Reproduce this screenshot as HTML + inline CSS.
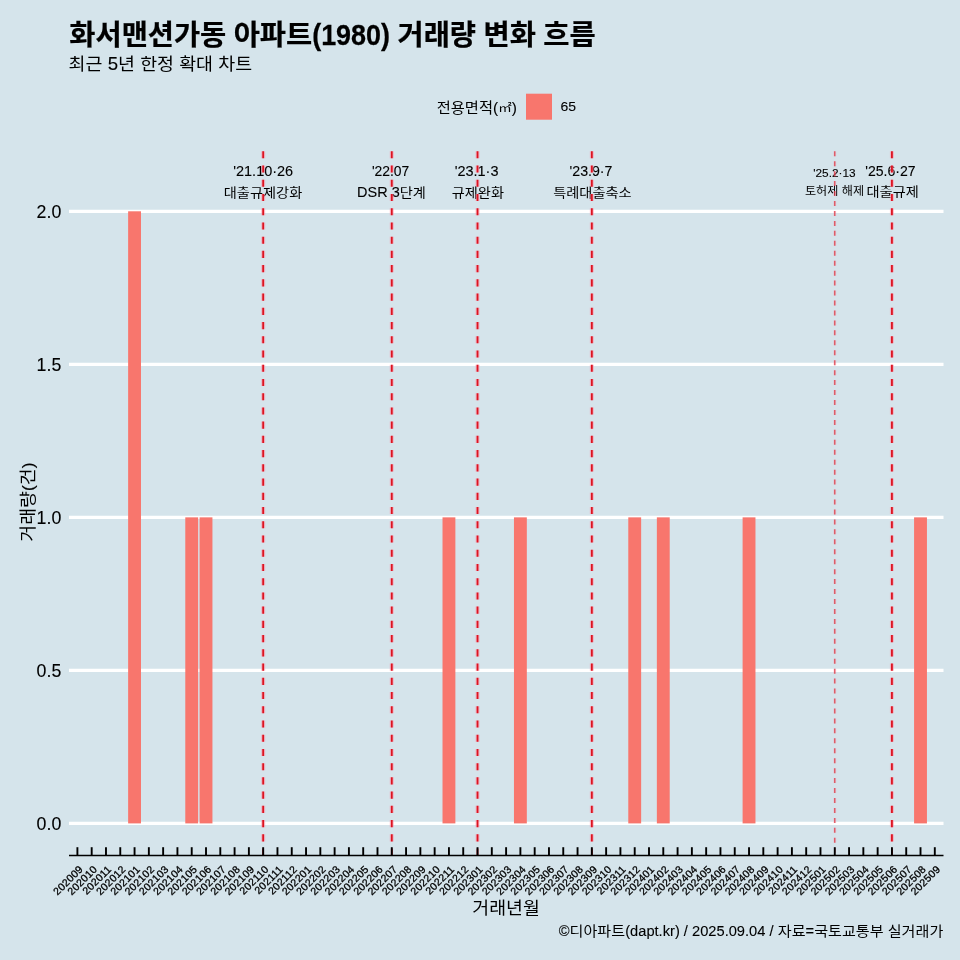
<!DOCTYPE html>
<html lang="ko"><head><meta charset="utf-8"><title>chart</title>
<style>
html,body{margin:0;padding:0;background:#d5e4eb;}
body{width:960px;height:960px;overflow:hidden;position:relative;font-family:"Liberation Sans","Noto Sans CJK KR",sans-serif;}
svg{position:absolute;left:0;top:0;display:block}
text.l{stroke:#000;stroke-width:0.1px}
text.b{stroke:#000;stroke-width:0.25px}
text.x{stroke:#000;stroke-width:0.3px}
text{white-space:pre;font-family:"Liberation Sans","Noto Sans CJK KR",sans-serif;fill:#000}
</style></head><body>
<svg width="960" height="960" viewBox="0 0 960 960">
<rect x="0" y="0" width="960" height="960" fill="#d5e4eb"/>

<line x1="69.0" x2="943.5" y1="823.40" y2="823.40" stroke="#fff" stroke-width="3.2"/>
<line x1="69.0" x2="943.5" y1="670.38" y2="670.38" stroke="#fff" stroke-width="3.2"/>
<line x1="69.0" x2="943.5" y1="517.35" y2="517.35" stroke="#fff" stroke-width="3.2"/>
<line x1="69.0" x2="943.5" y1="364.32" y2="364.32" stroke="#fff" stroke-width="3.2"/>
<line x1="69.0" x2="943.5" y1="211.30" y2="211.30" stroke="#fff" stroke-width="3.2"/>
<rect x="128.13" y="211.30" width="12.86" height="612.10" fill="#f8766d"/>
<rect x="185.29" y="517.35" width="12.86" height="306.05" fill="#f8766d"/>
<rect x="199.58" y="517.35" width="12.86" height="306.05" fill="#f8766d"/>
<rect x="442.51" y="517.35" width="12.86" height="306.05" fill="#f8766d"/>
<rect x="513.96" y="517.35" width="12.86" height="306.05" fill="#f8766d"/>
<rect x="628.28" y="517.35" width="12.86" height="306.05" fill="#f8766d"/>
<rect x="656.86" y="517.35" width="12.86" height="306.05" fill="#f8766d"/>
<rect x="742.60" y="517.35" width="12.86" height="306.05" fill="#f8766d"/>
<rect x="914.08" y="517.35" width="12.86" height="306.05" fill="#f8766d"/>
<g transform="translate(233.25,176.00)"><text transform="translate(0.00,0) scale(1.020,1)" font-size="14.20" class="l">'21.10·26</text></g>
<g transform="translate(223.72,197.38)"><text transform="translate(0.00,0) scale(1.120,1)" font-size="12.71">대출규제강화</text></g>
<g transform="translate(371.88,176.00)"><text transform="translate(0.00,0) scale(0.980,1)" font-size="14.20" class="l">'22.07</text></g>
<g transform="translate(357.12,197.38)"><text transform="translate(0.00,0) scale(1.020,1)" font-size="14.20" class="l">DSR 3</text><text transform="translate(42.63,0) scale(1.120,1)" font-size="12.71">단계</text></g>
<g transform="translate(454.70,176.00)"><text transform="translate(0.00,0) scale(1.020,1)" font-size="14.20" class="l">'23.1·3</text></g>
<g transform="translate(451.70,197.38)"><text transform="translate(0.00,0) scale(1.120,1)" font-size="12.71">규제완화</text></g>
<g transform="translate(569.55,176.00)"><text transform="translate(0.00,0)" font-size="14.20" class="l">'23.9·7</text></g>
<g transform="translate(553.18,197.38)"><text transform="translate(0.00,0) scale(1.120,1)" font-size="12.71">특례대출축소</text></g>
<g transform="translate(813.25,176.80)"><text transform="translate(0.00,0) scale(1.020,1)" font-size="11.60" class="l">'25.2·13</text></g>
<g transform="translate(804.95,195.05)"><text transform="translate(0.00,0) scale(1.120,1)" font-size="10.83">토허제</text><text transform="translate(33.48,0) scale(1.020,1)" font-size="12.10" class="l"> </text><text transform="translate(36.92,0) scale(1.120,1)" font-size="10.83">해제</text></g>
<g transform="translate(865.30,176.20)"><text transform="translate(0.00,0) scale(0.990,1)" font-size="14.20" class="l">'25.6·27</text></g>
<g transform="translate(866.50,196.20)"><text transform="translate(0.00,0) scale(1.120,1)" font-size="12.71">대출규제</text></g>
<line x1="263.17" x2="263.17" y1="151.25" y2="846.5" stroke="#ff90a8" stroke-opacity="0.55" stroke-width="4.00" stroke-dasharray="7.115 7.115"/>
<line x1="263.17" x2="263.17" y1="151.25" y2="855.3" stroke="#dc1420" stroke-width="1.8" stroke-dasharray="7.115 7.115"/>
<line x1="391.78" x2="391.78" y1="151.25" y2="846.5" stroke="#ff90a8" stroke-opacity="0.55" stroke-width="4.00" stroke-dasharray="7.115 7.115"/>
<line x1="391.78" x2="391.78" y1="151.25" y2="855.3" stroke="#dc1420" stroke-width="1.8" stroke-dasharray="7.115 7.115"/>
<line x1="477.52" x2="477.52" y1="151.25" y2="846.5" stroke="#ff90a8" stroke-opacity="0.55" stroke-width="4.00" stroke-dasharray="7.115 7.115"/>
<line x1="477.52" x2="477.52" y1="151.25" y2="855.3" stroke="#dc1420" stroke-width="1.8" stroke-dasharray="7.115 7.115"/>
<line x1="591.84" x2="591.84" y1="151.25" y2="846.5" stroke="#ff90a8" stroke-opacity="0.55" stroke-width="4.00" stroke-dasharray="7.115 7.115"/>
<line x1="591.84" x2="591.84" y1="151.25" y2="855.3" stroke="#dc1420" stroke-width="1.8" stroke-dasharray="7.115 7.115"/>
<line x1="834.77" x2="834.77" y1="151.25" y2="846.5" stroke="#ff90a8" stroke-opacity="0.3" stroke-width="2.85" stroke-dasharray="4.975 4.975"/>
<line x1="834.77" x2="834.77" y1="151.25" y2="855.3" stroke="#dc3540" stroke-width="1.25" stroke-dasharray="4.975 4.975" stroke-opacity="0.85"/>
<line x1="891.93" x2="891.93" y1="151.25" y2="846.5" stroke="#ff90a8" stroke-opacity="0.55" stroke-width="4.00" stroke-dasharray="7.115 7.115"/>
<line x1="891.93" x2="891.93" y1="151.25" y2="855.3" stroke="#dc1420" stroke-width="1.8" stroke-dasharray="7.115 7.115"/>
<line x1="69.0" x2="943.5" y1="855.4499999999999" y2="855.4499999999999" stroke="#000" stroke-width="1.55"/>
<line x1="77.40" x2="77.40" y1="847.2" y2="855.3" stroke="#000" stroke-width="1.9"/>
<line x1="91.69" x2="91.69" y1="847.2" y2="855.3" stroke="#000" stroke-width="1.9"/>
<line x1="105.98" x2="105.98" y1="847.2" y2="855.3" stroke="#000" stroke-width="1.9"/>
<line x1="120.27" x2="120.27" y1="847.2" y2="855.3" stroke="#000" stroke-width="1.9"/>
<line x1="134.56" x2="134.56" y1="847.2" y2="855.3" stroke="#000" stroke-width="1.9"/>
<line x1="148.85" x2="148.85" y1="847.2" y2="855.3" stroke="#000" stroke-width="1.9"/>
<line x1="163.14" x2="163.14" y1="847.2" y2="855.3" stroke="#000" stroke-width="1.9"/>
<line x1="177.43" x2="177.43" y1="847.2" y2="855.3" stroke="#000" stroke-width="1.9"/>
<line x1="191.72" x2="191.72" y1="847.2" y2="855.3" stroke="#000" stroke-width="1.9"/>
<line x1="206.01" x2="206.01" y1="847.2" y2="855.3" stroke="#000" stroke-width="1.9"/>
<line x1="220.30" x2="220.30" y1="847.2" y2="855.3" stroke="#000" stroke-width="1.9"/>
<line x1="234.59" x2="234.59" y1="847.2" y2="855.3" stroke="#000" stroke-width="1.9"/>
<line x1="248.88" x2="248.88" y1="847.2" y2="855.3" stroke="#000" stroke-width="1.9"/>
<line x1="263.17" x2="263.17" y1="847.2" y2="855.3" stroke="#000" stroke-width="1.9"/>
<line x1="277.46" x2="277.46" y1="847.2" y2="855.3" stroke="#000" stroke-width="1.9"/>
<line x1="291.75" x2="291.75" y1="847.2" y2="855.3" stroke="#000" stroke-width="1.9"/>
<line x1="306.04" x2="306.04" y1="847.2" y2="855.3" stroke="#000" stroke-width="1.9"/>
<line x1="320.33" x2="320.33" y1="847.2" y2="855.3" stroke="#000" stroke-width="1.9"/>
<line x1="334.62" x2="334.62" y1="847.2" y2="855.3" stroke="#000" stroke-width="1.9"/>
<line x1="348.91" x2="348.91" y1="847.2" y2="855.3" stroke="#000" stroke-width="1.9"/>
<line x1="363.20" x2="363.20" y1="847.2" y2="855.3" stroke="#000" stroke-width="1.9"/>
<line x1="377.49" x2="377.49" y1="847.2" y2="855.3" stroke="#000" stroke-width="1.9"/>
<line x1="391.78" x2="391.78" y1="847.2" y2="855.3" stroke="#000" stroke-width="1.9"/>
<line x1="406.07" x2="406.07" y1="847.2" y2="855.3" stroke="#000" stroke-width="1.9"/>
<line x1="420.36" x2="420.36" y1="847.2" y2="855.3" stroke="#000" stroke-width="1.9"/>
<line x1="434.65" x2="434.65" y1="847.2" y2="855.3" stroke="#000" stroke-width="1.9"/>
<line x1="448.94" x2="448.94" y1="847.2" y2="855.3" stroke="#000" stroke-width="1.9"/>
<line x1="463.23" x2="463.23" y1="847.2" y2="855.3" stroke="#000" stroke-width="1.9"/>
<line x1="477.52" x2="477.52" y1="847.2" y2="855.3" stroke="#000" stroke-width="1.9"/>
<line x1="491.81" x2="491.81" y1="847.2" y2="855.3" stroke="#000" stroke-width="1.9"/>
<line x1="506.10" x2="506.10" y1="847.2" y2="855.3" stroke="#000" stroke-width="1.9"/>
<line x1="520.39" x2="520.39" y1="847.2" y2="855.3" stroke="#000" stroke-width="1.9"/>
<line x1="534.68" x2="534.68" y1="847.2" y2="855.3" stroke="#000" stroke-width="1.9"/>
<line x1="548.97" x2="548.97" y1="847.2" y2="855.3" stroke="#000" stroke-width="1.9"/>
<line x1="563.26" x2="563.26" y1="847.2" y2="855.3" stroke="#000" stroke-width="1.9"/>
<line x1="577.55" x2="577.55" y1="847.2" y2="855.3" stroke="#000" stroke-width="1.9"/>
<line x1="591.84" x2="591.84" y1="847.2" y2="855.3" stroke="#000" stroke-width="1.9"/>
<line x1="606.13" x2="606.13" y1="847.2" y2="855.3" stroke="#000" stroke-width="1.9"/>
<line x1="620.42" x2="620.42" y1="847.2" y2="855.3" stroke="#000" stroke-width="1.9"/>
<line x1="634.71" x2="634.71" y1="847.2" y2="855.3" stroke="#000" stroke-width="1.9"/>
<line x1="649.00" x2="649.00" y1="847.2" y2="855.3" stroke="#000" stroke-width="1.9"/>
<line x1="663.29" x2="663.29" y1="847.2" y2="855.3" stroke="#000" stroke-width="1.9"/>
<line x1="677.58" x2="677.58" y1="847.2" y2="855.3" stroke="#000" stroke-width="1.9"/>
<line x1="691.87" x2="691.87" y1="847.2" y2="855.3" stroke="#000" stroke-width="1.9"/>
<line x1="706.16" x2="706.16" y1="847.2" y2="855.3" stroke="#000" stroke-width="1.9"/>
<line x1="720.45" x2="720.45" y1="847.2" y2="855.3" stroke="#000" stroke-width="1.9"/>
<line x1="734.74" x2="734.74" y1="847.2" y2="855.3" stroke="#000" stroke-width="1.9"/>
<line x1="749.03" x2="749.03" y1="847.2" y2="855.3" stroke="#000" stroke-width="1.9"/>
<line x1="763.32" x2="763.32" y1="847.2" y2="855.3" stroke="#000" stroke-width="1.9"/>
<line x1="777.61" x2="777.61" y1="847.2" y2="855.3" stroke="#000" stroke-width="1.9"/>
<line x1="791.90" x2="791.90" y1="847.2" y2="855.3" stroke="#000" stroke-width="1.9"/>
<line x1="806.19" x2="806.19" y1="847.2" y2="855.3" stroke="#000" stroke-width="1.9"/>
<line x1="820.48" x2="820.48" y1="847.2" y2="855.3" stroke="#000" stroke-width="1.9"/>
<line x1="834.77" x2="834.77" y1="847.2" y2="855.3" stroke="#000" stroke-width="1.9"/>
<line x1="849.06" x2="849.06" y1="847.2" y2="855.3" stroke="#000" stroke-width="1.9"/>
<line x1="863.35" x2="863.35" y1="847.2" y2="855.3" stroke="#000" stroke-width="1.9"/>
<line x1="877.64" x2="877.64" y1="847.2" y2="855.3" stroke="#000" stroke-width="1.9"/>
<line x1="891.93" x2="891.93" y1="847.2" y2="855.3" stroke="#000" stroke-width="1.9"/>
<line x1="906.22" x2="906.22" y1="847.2" y2="855.3" stroke="#000" stroke-width="1.9"/>
<line x1="920.51" x2="920.51" y1="847.2" y2="855.3" stroke="#000" stroke-width="1.9"/>
<line x1="934.80" x2="934.80" y1="847.2" y2="855.3" stroke="#000" stroke-width="1.9"/>
<text class="x" transform="translate(83.60,869.80) rotate(-45)" font-size="10.50" text-anchor="end" letter-spacing="0.3">202009</text>
<text class="x" transform="translate(97.89,869.80) rotate(-45)" font-size="10.50" text-anchor="end" letter-spacing="0.3">202010</text>
<text class="x" transform="translate(112.18,869.80) rotate(-45)" font-size="10.50" text-anchor="end" letter-spacing="0.3">202011</text>
<text class="x" transform="translate(126.47,869.80) rotate(-45)" font-size="10.50" text-anchor="end" letter-spacing="0.3">202012</text>
<text class="x" transform="translate(140.76,869.80) rotate(-45)" font-size="10.50" text-anchor="end" letter-spacing="0.3">202101</text>
<text class="x" transform="translate(155.05,869.80) rotate(-45)" font-size="10.50" text-anchor="end" letter-spacing="0.3">202102</text>
<text class="x" transform="translate(169.34,869.80) rotate(-45)" font-size="10.50" text-anchor="end" letter-spacing="0.3">202103</text>
<text class="x" transform="translate(183.63,869.80) rotate(-45)" font-size="10.50" text-anchor="end" letter-spacing="0.3">202104</text>
<text class="x" transform="translate(197.92,869.80) rotate(-45)" font-size="10.50" text-anchor="end" letter-spacing="0.3">202105</text>
<text class="x" transform="translate(212.21,869.80) rotate(-45)" font-size="10.50" text-anchor="end" letter-spacing="0.3">202106</text>
<text class="x" transform="translate(226.50,869.80) rotate(-45)" font-size="10.50" text-anchor="end" letter-spacing="0.3">202107</text>
<text class="x" transform="translate(240.79,869.80) rotate(-45)" font-size="10.50" text-anchor="end" letter-spacing="0.3">202108</text>
<text class="x" transform="translate(255.08,869.80) rotate(-45)" font-size="10.50" text-anchor="end" letter-spacing="0.3">202109</text>
<text class="x" transform="translate(269.37,869.80) rotate(-45)" font-size="10.50" text-anchor="end" letter-spacing="0.3">202110</text>
<text class="x" transform="translate(283.66,869.80) rotate(-45)" font-size="10.50" text-anchor="end" letter-spacing="0.3">202111</text>
<text class="x" transform="translate(297.95,869.80) rotate(-45)" font-size="10.50" text-anchor="end" letter-spacing="0.3">202112</text>
<text class="x" transform="translate(312.24,869.80) rotate(-45)" font-size="10.50" text-anchor="end" letter-spacing="0.3">202201</text>
<text class="x" transform="translate(326.53,869.80) rotate(-45)" font-size="10.50" text-anchor="end" letter-spacing="0.3">202202</text>
<text class="x" transform="translate(340.82,869.80) rotate(-45)" font-size="10.50" text-anchor="end" letter-spacing="0.3">202203</text>
<text class="x" transform="translate(355.11,869.80) rotate(-45)" font-size="10.50" text-anchor="end" letter-spacing="0.3">202204</text>
<text class="x" transform="translate(369.40,869.80) rotate(-45)" font-size="10.50" text-anchor="end" letter-spacing="0.3">202205</text>
<text class="x" transform="translate(383.69,869.80) rotate(-45)" font-size="10.50" text-anchor="end" letter-spacing="0.3">202206</text>
<text class="x" transform="translate(397.98,869.80) rotate(-45)" font-size="10.50" text-anchor="end" letter-spacing="0.3">202207</text>
<text class="x" transform="translate(412.27,869.80) rotate(-45)" font-size="10.50" text-anchor="end" letter-spacing="0.3">202208</text>
<text class="x" transform="translate(426.56,869.80) rotate(-45)" font-size="10.50" text-anchor="end" letter-spacing="0.3">202209</text>
<text class="x" transform="translate(440.85,869.80) rotate(-45)" font-size="10.50" text-anchor="end" letter-spacing="0.3">202210</text>
<text class="x" transform="translate(455.14,869.80) rotate(-45)" font-size="10.50" text-anchor="end" letter-spacing="0.3">202211</text>
<text class="x" transform="translate(469.43,869.80) rotate(-45)" font-size="10.50" text-anchor="end" letter-spacing="0.3">202212</text>
<text class="x" transform="translate(483.72,869.80) rotate(-45)" font-size="10.50" text-anchor="end" letter-spacing="0.3">202301</text>
<text class="x" transform="translate(498.01,869.80) rotate(-45)" font-size="10.50" text-anchor="end" letter-spacing="0.3">202302</text>
<text class="x" transform="translate(512.30,869.80) rotate(-45)" font-size="10.50" text-anchor="end" letter-spacing="0.3">202303</text>
<text class="x" transform="translate(526.59,869.80) rotate(-45)" font-size="10.50" text-anchor="end" letter-spacing="0.3">202304</text>
<text class="x" transform="translate(540.88,869.80) rotate(-45)" font-size="10.50" text-anchor="end" letter-spacing="0.3">202305</text>
<text class="x" transform="translate(555.17,869.80) rotate(-45)" font-size="10.50" text-anchor="end" letter-spacing="0.3">202306</text>
<text class="x" transform="translate(569.46,869.80) rotate(-45)" font-size="10.50" text-anchor="end" letter-spacing="0.3">202307</text>
<text class="x" transform="translate(583.75,869.80) rotate(-45)" font-size="10.50" text-anchor="end" letter-spacing="0.3">202308</text>
<text class="x" transform="translate(598.04,869.80) rotate(-45)" font-size="10.50" text-anchor="end" letter-spacing="0.3">202309</text>
<text class="x" transform="translate(612.33,869.80) rotate(-45)" font-size="10.50" text-anchor="end" letter-spacing="0.3">202310</text>
<text class="x" transform="translate(626.62,869.80) rotate(-45)" font-size="10.50" text-anchor="end" letter-spacing="0.3">202311</text>
<text class="x" transform="translate(640.91,869.80) rotate(-45)" font-size="10.50" text-anchor="end" letter-spacing="0.3">202312</text>
<text class="x" transform="translate(655.20,869.80) rotate(-45)" font-size="10.50" text-anchor="end" letter-spacing="0.3">202401</text>
<text class="x" transform="translate(669.49,869.80) rotate(-45)" font-size="10.50" text-anchor="end" letter-spacing="0.3">202402</text>
<text class="x" transform="translate(683.78,869.80) rotate(-45)" font-size="10.50" text-anchor="end" letter-spacing="0.3">202403</text>
<text class="x" transform="translate(698.07,869.80) rotate(-45)" font-size="10.50" text-anchor="end" letter-spacing="0.3">202404</text>
<text class="x" transform="translate(712.36,869.80) rotate(-45)" font-size="10.50" text-anchor="end" letter-spacing="0.3">202405</text>
<text class="x" transform="translate(726.65,869.80) rotate(-45)" font-size="10.50" text-anchor="end" letter-spacing="0.3">202406</text>
<text class="x" transform="translate(740.94,869.80) rotate(-45)" font-size="10.50" text-anchor="end" letter-spacing="0.3">202407</text>
<text class="x" transform="translate(755.23,869.80) rotate(-45)" font-size="10.50" text-anchor="end" letter-spacing="0.3">202408</text>
<text class="x" transform="translate(769.52,869.80) rotate(-45)" font-size="10.50" text-anchor="end" letter-spacing="0.3">202409</text>
<text class="x" transform="translate(783.81,869.80) rotate(-45)" font-size="10.50" text-anchor="end" letter-spacing="0.3">202410</text>
<text class="x" transform="translate(798.10,869.80) rotate(-45)" font-size="10.50" text-anchor="end" letter-spacing="0.3">202411</text>
<text class="x" transform="translate(812.39,869.80) rotate(-45)" font-size="10.50" text-anchor="end" letter-spacing="0.3">202412</text>
<text class="x" transform="translate(826.68,869.80) rotate(-45)" font-size="10.50" text-anchor="end" letter-spacing="0.3">202501</text>
<text class="x" transform="translate(840.97,869.80) rotate(-45)" font-size="10.50" text-anchor="end" letter-spacing="0.3">202502</text>
<text class="x" transform="translate(855.26,869.80) rotate(-45)" font-size="10.50" text-anchor="end" letter-spacing="0.3">202503</text>
<text class="x" transform="translate(869.55,869.80) rotate(-45)" font-size="10.50" text-anchor="end" letter-spacing="0.3">202504</text>
<text class="x" transform="translate(883.84,869.80) rotate(-45)" font-size="10.50" text-anchor="end" letter-spacing="0.3">202505</text>
<text class="x" transform="translate(898.13,869.80) rotate(-45)" font-size="10.50" text-anchor="end" letter-spacing="0.3">202506</text>
<text class="x" transform="translate(912.42,869.80) rotate(-45)" font-size="10.50" text-anchor="end" letter-spacing="0.3">202507</text>
<text class="x" transform="translate(926.71,869.80) rotate(-45)" font-size="10.50" text-anchor="end" letter-spacing="0.3">202508</text>
<text class="x" transform="translate(941.00,869.80) rotate(-45)" font-size="10.50" text-anchor="end" letter-spacing="0.3">202509</text>
<text class="l" transform="translate(61.30,830.00) scale(1.0100,1)" font-size="17.60" text-anchor="end">0.0</text>
<text class="l" transform="translate(61.30,676.98) scale(1.0100,1)" font-size="17.60" text-anchor="end">0.5</text>
<text class="l" transform="translate(61.30,523.95) scale(1.0100,1)" font-size="17.60" text-anchor="end">1.0</text>
<text class="l" transform="translate(61.30,370.92) scale(1.0100,1)" font-size="17.60" text-anchor="end">1.5</text>
<text class="l" transform="translate(61.30,217.90) scale(1.0100,1)" font-size="17.60" text-anchor="end">2.0</text>
<g transform="translate(69.35,44.65)"><text transform="translate(0.00,0) scale(1.015,1)" font-size="28.00" font-weight="bold" class="b">화서맨션가동</text><text transform="translate(156.88,0) scale(0.920,1)" font-size="29.30" font-weight="bold" class="b"> </text><text transform="translate(164.37,0) scale(1.015,1)" font-size="28.00" font-weight="bold" class="b">아파트</text><text transform="translate(242.81,0) scale(0.920,1)" font-size="29.30" font-weight="bold" class="b">(1980) </text><text transform="translate(328.21,0) scale(1.015,1)" font-size="28.00" font-weight="bold" class="b">거래량</text><text transform="translate(406.65,0) scale(0.920,1)" font-size="29.30" font-weight="bold" class="b"> </text><text transform="translate(414.14,0) scale(1.015,1)" font-size="28.00" font-weight="bold" class="b">변화</text><text transform="translate(466.45,0) scale(0.920,1)" font-size="29.30" font-weight="bold" class="b"> </text><text transform="translate(473.94,0) scale(1.015,1)" font-size="28.00" font-weight="bold" class="b">흐름</text></g>
<g transform="translate(68.60,69.95)"><text transform="translate(0.00,0) scale(1.070,1)" font-size="17.20">최근</text><text transform="translate(33.86,0) scale(1.020,1)" font-size="18.30" class="l"> 5</text><text transform="translate(49.41,0) scale(1.070,1)" font-size="17.20">년</text><text transform="translate(66.35,0) scale(1.020,1)" font-size="18.30" class="l"> </text><text transform="translate(71.54,0) scale(1.070,1)" font-size="17.20">한정</text><text transform="translate(105.40,0) scale(1.020,1)" font-size="18.30" class="l"> </text><text transform="translate(110.59,0) scale(1.070,1)" font-size="17.20">확대</text><text transform="translate(144.45,0) scale(1.020,1)" font-size="18.30" class="l"> </text><text transform="translate(149.64,0) scale(1.070,1)" font-size="17.20">차트</text></g>
<g transform="translate(436.70,113.25)"><text transform="translate(0.00,0) scale(1.020,1)" font-size="15.00">전용면적</text><text transform="translate(56.31,0) scale(1.020,1)" font-size="15.20" class="l">(</text><text transform="translate(61.47,-0.8) scale(1.250,1)" font-size="10.80">㎡</text><text transform="translate(74.97,0) scale(1.020,1)" font-size="15.20" class="l">)</text></g>
<g transform="translate(560.50,111.25)"><text transform="translate(0.00,0) scale(1.050,1)" font-size="13.30" class="l">65</text></g>
<g transform="translate(472.35,914.10)"><text transform="translate(0.00,0) scale(1.050,1)" font-size="17.48">거래년월</text></g>
<g transform="translate(34.25,541.65) rotate(-90)"><text transform="translate(0.00,0) scale(1.050,1)" font-size="17.48">거래량</text><text transform="translate(50.63,0) scale(1.020,1)" font-size="17.00" class="l">(</text><text transform="translate(56.42,0) scale(1.050,1)" font-size="17.48">건</text><text transform="translate(73.30,0) scale(1.020,1)" font-size="17.00" class="l">)</text></g>
<g transform="translate(558.75,935.93)"><text transform="translate(0.00,0) scale(0.995,1)" font-size="14.75" class="l">©</text><text transform="translate(10.82,0) scale(1.090,1)" font-size="13.86">디아파트</text><text transform="translate(66.43,0) scale(0.995,1)" font-size="14.75" class="l">(dapt.kr) / 2025.09.04 / </text><text transform="translate(218.99,0) scale(1.090,1)" font-size="13.86">자료</text><text transform="translate(246.80,0) scale(0.995,1)" font-size="14.75" class="l">=</text><text transform="translate(255.38,0) scale(1.090,1)" font-size="13.86">국토교통부</text><text transform="translate(324.89,0) scale(0.995,1)" font-size="14.75" class="l"> </text><text transform="translate(328.98,0) scale(1.090,1)" font-size="13.86">실거래가</text></g>
<rect x="526" y="93.7" width="26" height="26" fill="#f8766d"/>
</svg></body></html>
